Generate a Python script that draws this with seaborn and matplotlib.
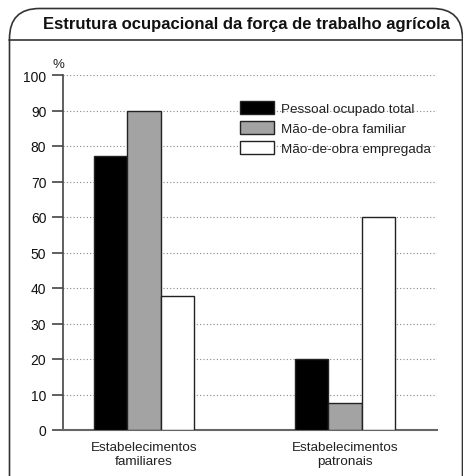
"""
Estrutura ocupacional da força de trabalho agrícola - barras agrupadas
"""
import pandas as pd
import matplotlib
matplotlib.use('Agg')
import matplotlib.pyplot as plt
import matplotlib.transforms as mtransforms
from matplotlib.path import Path
from matplotlib.patches import PathPatch
import seaborn as sns

# dados
categorias = ['Estabelecimentos\nfamiliares', 'Estabelecimentos\npatronais']
series = ['Pessoal ocupado total', 'Mão-de-obra familiar', 'Mão-de-obra empregada']
pessoal_total = [77.3, 20.0]
mao_familiar = [90.0, 7.6]
mao_empregada = [37.7, 60.0]
cores = ['#000000', '#a3a3a3', '#ffffff']
yticks = list(range(0, 101, 10))

W, H = 464, 477

sns.set_theme(style='white')
plt.rcParams['font.family'] = ['Liberation Sans', 'DejaVu Sans']

df = pd.DataFrame({
    'categoria': categorias * 3,
    'serie': [s for s in series for _ in categorias],
    'valor': pessoal_total + mao_familiar + mao_empregada,
})

fig = plt.figure(figsize=(W / 100, H / 100), dpi=100)
fig.patch.set_facecolor('white')
ax = fig.add_axes([63 / W, 1 - 431 / H, (437 - 63) / W, (431 - 76) / H])

sns.barplot(data=df, x='categoria', y='valor', hue='serie', hue_order=series,
            palette=cores, width=0.5, gap=0, edgecolor='#222222', linewidth=1.0,
            saturation=1, ax=ax, zorder=3)

ax.set_xlim(-0.403, 1.458)
ax.set_ylim(0, 100)
ax.set_yticks(yticks)
ax.set_xlabel('')
ax.set_ylabel('')
ax.grid(axis='y', color='#888888', linestyle=(0, (1, 2)), linewidth=0.8, zorder=0)
ax.grid(axis='x', visible=False)
ax.set_axisbelow(True)

for lado in ['top', 'right']:
    ax.spines[lado].set_visible(False)
ax.spines['left'].set_color('#444444')
ax.spines['bottom'].set_color('#666666')
ax.spines['left'].set_linewidth(1.2)
ax.spines['bottom'].set_linewidth(1.5)

ax.tick_params(axis='y', direction='out', length=8, width=1.2, color='#444444',
               labelsize=10, pad=4, left=True, labelcolor='#111111')
ax.tick_params(axis='x', length=0, labelsize=9.7, pad=8, labelcolor='#222222')

ax.text(-0.013, 1 + 5 / 355, '%', transform=ax.transAxes, ha='center', va='bottom',
        fontsize=9.5, color='#222222')

# legenda
handles, labels = ax.get_legend_handles_labels()
ax.legend(handles, labels, loc='upper left', bbox_to_anchor=(240 / W, 1 - 102 / H),
          bbox_transform=fig.transFigure, frameon=False, fontsize=9.7,
          handlelength=2.55, handleheight=1.12, handletextpad=0.5,
          labelspacing=0.42, borderpad=0, borderaxespad=0, labelcolor='#222222')

# moldura com cantos arredondados
px = mtransforms.Affine2D().scale(1 / W, 1 / H) + fig.transFigure
x0, x1, yt, r = 9.5, 462.5, H - 9.5, 30
verts = [(x0, -5), (x0, yt - r), (x0, yt), (x0 + r, yt), (x1 - r, yt), (x1, yt),
         (x1, yt - r), (x1, -5)]
codes = [Path.MOVETO, Path.LINETO, Path.CURVE3, Path.CURVE3, Path.LINETO,
         Path.CURVE3, Path.CURVE3, Path.LINETO]
fig.patches.append(PathPatch(Path(verts, codes), transform=px, fill=False,
                             edgecolor='#333333', linewidth=1.2))
fig.lines.append(plt.Line2D([x0, W], [H - 40.5, H - 40.5], transform=px,
                            color='#333333', linewidth=1.2))

fig.text(246 / W, 1 - 25 / H, 'Estrutura ocupacional da força de trabalho agrícola',
         ha='center', va='center', fontsize=12.0, fontweight='bold', color='#111111')

fig.savefig('out.png', dpi=100)
